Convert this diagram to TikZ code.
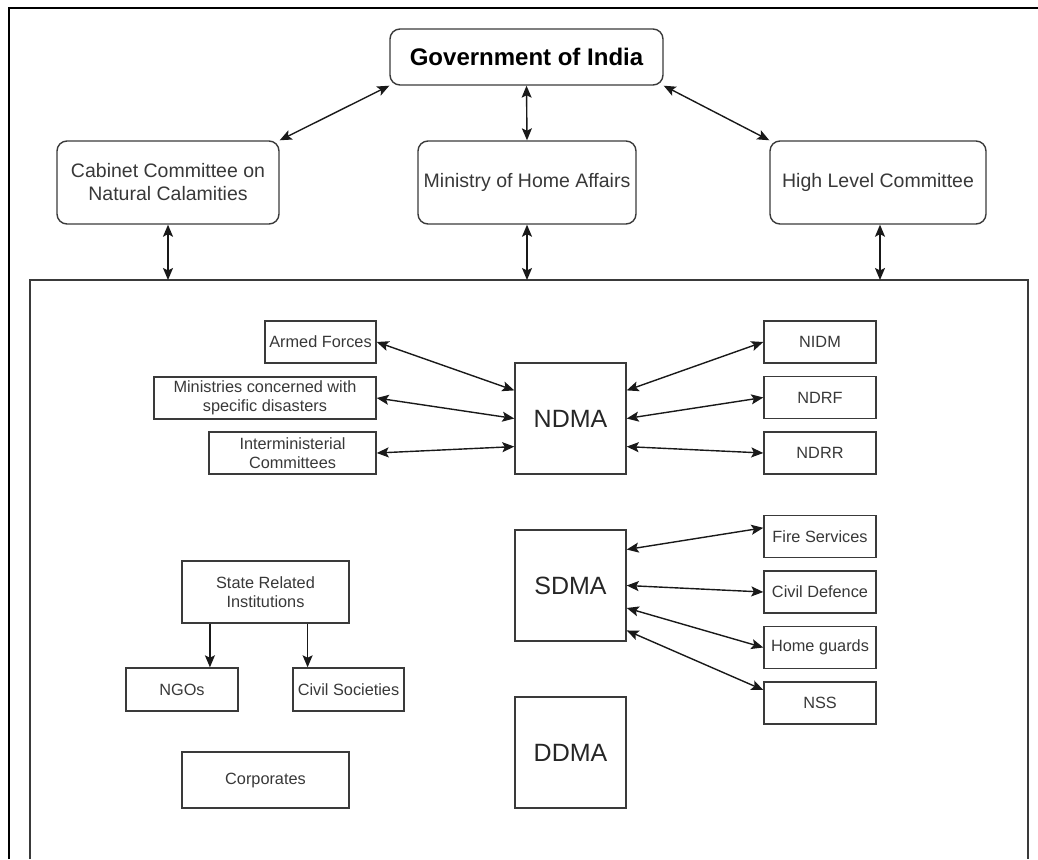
\documentclass[tikz,border=0pt]{standalone}
\usepackage{fontspec}
\setmainfont{Liberation Sans}
\usetikzlibrary{arrows.meta,calc}
\definecolor{boxline}{HTML}{3A3A3A}
\definecolor{boxtext}{HTML}{383838}
\tikzset{
  rbox/.style={draw=boxline,line width=1.4pt,rounded corners=10pt,align=center,
    text=boxtext,font=\fontsize{19.5}{23}\selectfont,inner sep=0pt},
  sbox/.style={draw=boxline,line width=1.4pt,align=center,text=boxtext,
    font=\fontsize{16.3}{19}\selectfont,inner sep=0pt},
  bigbox/.style={draw=boxline,line width=1.4pt,align=center,text=black!85,
    font=\fontsize{25}{28}\selectfont,inner sep=0pt,minimum width=111pt,minimum height=111pt},
  tip/.style={},
  twoway/.style={line width=1.4pt,black!90,{Stealth[length=12pt,width=10pt,inset=2.5pt]}-{Stealth[length=12pt,width=10pt,inset=2.5pt]}},
  oneway/.style={line width=1.4pt,black!90,-{Stealth[length=12pt,width=10pt,inset=2.5pt]}},
  frame/.style={line width=2.4pt,black},
  inner/.style={line width=1.4pt,draw=boxline}
}
\begin{document}
\begin{tikzpicture}[x=1pt,y=-1pt]
\useasboundingbox (0,0) rectangle (1038,859);
% outer frame
\draw[frame] (9,859) -- (9,8) -- (1038,8);
% inner frame
\draw[inner] (30,859) -- (30,280) -- (1028,280) -- (1028,859);
\coordinate (inA) at (168,280);
\coordinate (inB) at (527,280);
\coordinate (inC) at (880,280);

% top level
\node[rbox,minimum width=273pt,minimum height=56pt,text=black,
  font=\fontsize{24}{28}\selectfont\bfseries] (gov) at (526.5,57) {Government of India};
\node[rbox,minimum width=222pt,minimum height=83pt] (ccnc) at (168,182.5) {Cabinet Committee on\\Natural Calamities};
\node[rbox,minimum width=218pt,minimum height=83pt] (mha) at (527,182.5) {Ministry of Home Affairs};
\node[rbox,minimum width=216pt,minimum height=83pt] (hlc) at (878,182.5) {High Level Committee};

\draw[twoway] (ccnc.north east) -- (gov.south west);
\draw[twoway] (gov.south) -- (mha.north);
\draw[twoway] (gov.south east) -- (hlc.north west);
\draw[twoway] (ccnc.south) -- (inA);
\draw[twoway] (mha.south) -- (inB);
\draw[twoway] (hlc.south -| inC) -- (inC);

% NDMA group
\node[bigbox] (ndma) at (570.5,418.5) {NDMA};
\node[sbox,minimum width=111pt,minimum height=42pt] (armed) at (320.5,342) {Armed Forces};
\node[sbox,minimum width=222pt,minimum height=42pt] (mins) at (265,398) {Ministries concerned with\\specific disasters};
\node[sbox,minimum width=167pt,minimum height=42pt] (inter) at (292.5,453) {Interministerial\\Committees};
\node[sbox,minimum width=112pt,minimum height=42pt] (nidm) at (820,342) {NIDM};
\node[sbox,minimum width=112pt,minimum height=42pt] (ndrf) at (820,397.5) {NDRF};
\node[sbox,minimum width=112pt,minimum height=42pt] (ndrr) at (820,453) {NDRR};

\draw[twoway] (armed.east) -- ($(ndma.north west)!0.25!(ndma.south west)$);
\draw[twoway] (mins.east) -- ($(ndma.north west)!0.5!(ndma.south west)$);
\draw[twoway] (inter.east) -- ($(ndma.north west)!0.75!(ndma.south west)$);
\draw[twoway] ($(ndma.north east)!0.25!(ndma.south east)$) -- (nidm.west);
\draw[twoway] ($(ndma.north east)!0.5!(ndma.south east)$) -- (ndrf.west);
\draw[twoway] ($(ndma.north east)!0.75!(ndma.south east)$) -- (ndrr.west);

% SDMA group
\node[bigbox] (sdma) at (570.5,585.5) {SDMA};
\node[sbox,minimum width=112pt,minimum height=42pt] (fire) at (820,536.5) {Fire Services};
\node[sbox,minimum width=112pt,minimum height=42pt] (civd) at (820,592) {Civil Defence};
\node[sbox,minimum width=112pt,minimum height=42pt] (homeg) at (820,647.5) {Home guards};
\node[sbox,minimum width=112pt,minimum height=42pt] (nss) at (820,703) {NSS};

\draw[twoway] ($(sdma.north east)!0.18!(sdma.south east)$) -- ($(fire.north west)!0.3!(fire.south west)$);
\draw[twoway] ($(sdma.north east)!0.5!(sdma.south east)$) -- (civd.west);
\draw[twoway] ($(sdma.north east)!0.7!(sdma.south east)$) -- (homeg.west);
\draw[twoway] ($(sdma.north east)!0.9!(sdma.south east)$) -- ($(nss.north west)!0.2!(nss.south west)$);

% DDMA
\node[bigbox] (ddma) at (570.5,752.5) {DDMA};

% state related
\node[sbox,minimum width=167pt,minimum height=62pt] (state) at (265.5,592) {State Related\\Institutions};
\node[sbox,minimum width=112pt,minimum height=43pt] (ngos) at (182,689.5) {NGOs};
\node[sbox,minimum width=111pt,minimum height=43pt] (civs) at (348.5,689.5) {Civil Societies};
\node[sbox,minimum width=167pt,minimum height=56pt] (corp) at (265.5,780) {Corporates};

\coordinate (sA) at ($(state.south west)!0.17!(state.south east)$);
\coordinate (sB) at ($(state.south west)!0.75!(state.south east)$);
\draw[oneway] (sA) -- (sA |- ngos.north);
\draw[oneway] (sB) -- (sB |- civs.north);
\end{tikzpicture}
\end{document}
